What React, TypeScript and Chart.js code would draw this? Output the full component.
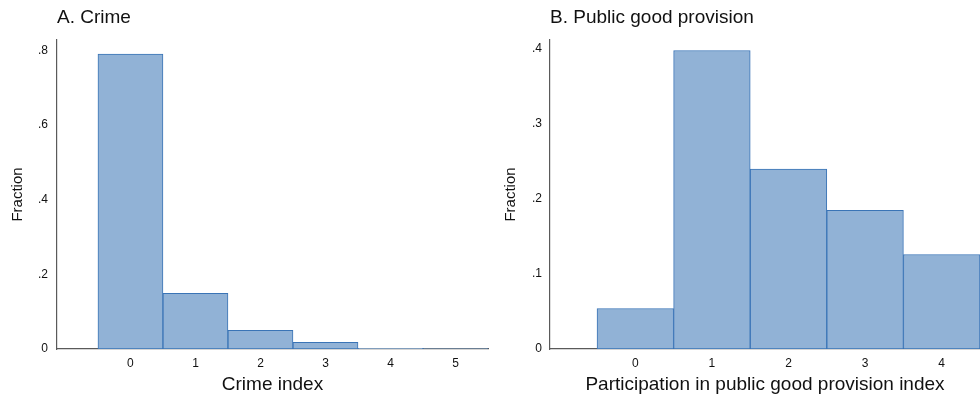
import React, { useEffect, useRef } from "react";
import { Chart, registerables } from "chart.js";

Chart.register(...registerables);

// ---- Data ----
const crimeCategories = [0, 1, 2, 3, 4, 5];
const crimeFractions = [0.79, 0.149, 0.05, 0.018, 0.002, 0.001];
const crimeYTicks = [0, 0.2, 0.4, 0.6, 0.8];
const crimeYTickLabels = ["0", ".2", ".4", ".6", ".8"];

const publicCategories = [0, 1, 2, 3, 4];
const publicFractions = [0.054, 0.398, 0.24, 0.185, 0.126];
const publicYTicks = [0, 0.1, 0.2, 0.3, 0.4];
const publicYTickLabels = ["0", ".1", ".2", ".3", ".4"];

const FONT = "'Liberation Sans', Arial, Helvetica, sans-serif";
const FILL = "#91b2d6";
const EDGE = "#3a74b6";
const AXIS = "#5a5a5a";
const TEXT = "#111111";

type PanelProps = {
  left: number;
  width: number;
  title: string;
  xTitle: string;
  categories: number[];
  values: number[];
  yTicks: number[];
  yTickLabels: string[];
  xMin: number;
  xMax: number;
  yMax: number;
  yAxisWidth: number;
  padRight: number;
  yTitlePad: number;
  yTickPad: number;
};

function Panel(p: PanelProps) {
  const ref = useRef<HTMLCanvasElement | null>(null);
  useEffect(() => {
    if (!ref.current) return;
    const chart = new Chart(ref.current, {
      type: "bar",
      data: {
        datasets: [
          {
            data: p.categories.map((c, i) => ({ x: c, y: p.values[i] })),
            backgroundColor: FILL,
            borderColor: EDGE,
            borderWidth: 1,
            borderSkipped: false,
            barPercentage: 1,
            categoryPercentage: 1,
          } as any,
        ],
      },
      options: {
        animation: false,
        responsive: false,
        devicePixelRatio: 1,
        layout: { padding: { left: 0, right: p.padRight, top: 0, bottom: 0 } },
        plugins: {
          legend: { display: false },
          tooltip: { enabled: false },
          title: {
            display: true,
            text: p.title,
            align: "start",
            fullSize: false,
            color: TEXT,
            font: { family: FONT, size: 19, weight: "normal" },
            padding: { top: 6, bottom: 11.2 },
          },
        },
        scales: {
          x: {
            type: "linear",
            min: p.xMin,
            max: p.xMax,
            offset: false,
            grid: { display: false, drawTicks: false },
            border: { display: true, color: AXIS, width: 1.2 },
            ticks: {
              color: TEXT,
              font: { family: FONT, size: 12 },
              padding: 7,
              autoSkip: false,
              maxRotation: 0,
              callback: (v: any) => String(v),
            },
            afterBuildTicks: (s: any) => {
              s.ticks = p.categories.map((v) => ({ value: v }));
            },
            afterFit: (s: any) => {
              s.height = 49;
            },
            title: {
              display: true,
              text: p.xTitle,
              color: TEXT,
              font: { family: FONT, size: 19 },
              padding: { top: 0, bottom: 1.6 },
            },
          },
          y: {
            type: "linear",
            min: 0,
            max: p.yMax,
            grid: { display: false, drawTicks: false },
            border: { display: true, color: AXIS, width: 1.2 },
            ticks: {
              color: TEXT,
              font: { family: FONT, size: 12 },
              padding: p.yTickPad,
              callback: (_v: any, i: number) => p.yTickLabels[i],
            },
            afterBuildTicks: (s: any) => {
              s.ticks = p.yTicks.map((v) => ({ value: v }));
            },
            afterFit: (s: any) => {
              s.width = p.yAxisWidth;
            },
            title: {
              display: true,
              text: "Fraction",
              color: TEXT,
              font: { family: FONT, size: 15 },
              padding: { top: p.yTitlePad, bottom: 0 },
            },
          },
        },
      } as any,
    });
    return () => chart.destroy();
  }, []);
  return (
    <canvas
      ref={ref}
      width={p.width}
      height={398}
      style={{ position: "absolute", left: p.left, top: 0, width: p.width, height: 398, display: "block" }}
    />
  );
}

export default function App() {
  return (
    <div style={{ position: "fixed", left: 0, top: 0, width: 980, height: 398, background: "#fff", overflow: "hidden" }}>
      <Panel
        left={0}
        width={490}
        title="A. Crime"
        xTitle="Crime index"
        categories={crimeCategories}
        values={crimeFractions}
        yTicks={crimeYTicks}
        yTickLabels={crimeYTickLabels}
        xMin={-1.13}
        xMax={5.5}
        yMax={0.828}
        yAxisWidth={57}
        padRight={2}
        yTitlePad={9}
        yTickPad={9}
      />
      <Panel
        left={490}
        width={490}
        title="B. Public good provision"
        xTitle="Participation in public good provision index"
        categories={publicCategories}
        values={publicFractions}
        yTicks={publicYTicks}
        yTickLabels={publicYTickLabels}
        xMin={-1.114}
        xMax={4.5}
        yMax={0.412}
        yAxisWidth={60}
        padRight={0}
        yTitlePad={12}
        yTickPad={8}
      />
    </div>
  );
}
